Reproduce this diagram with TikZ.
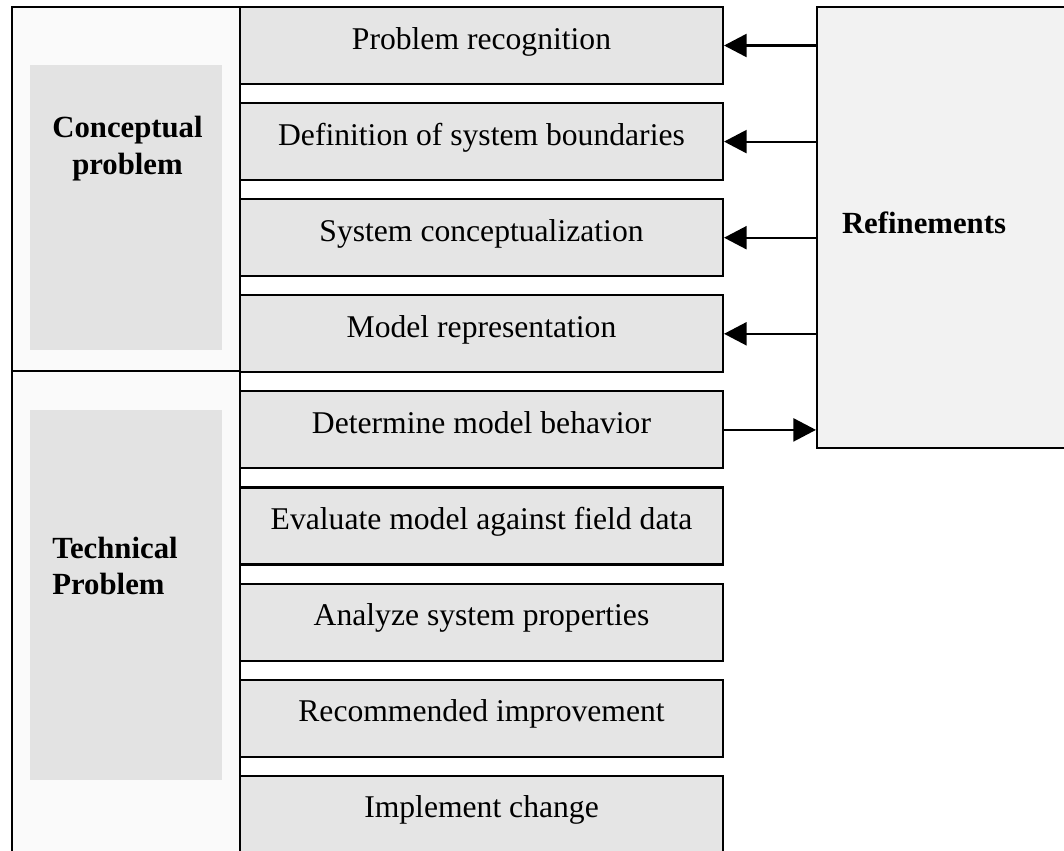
\documentclass[tikz,border=0pt]{standalone}
\usepackage{fontspec}
\setmainfont{Liberation Serif}
\usetikzlibrary{arrows.meta}

\tikzset{
	stagebox/.style={draw, line width=1.2pt, fill=gray!20, rectangle,
		minimum width=9.66cm, minimum height=1.54cm, inner sep=0pt,
		text height=13pt, text depth=9pt,
		font=\fontsize{18}{22}\selectfont},
	sidebox/.style={draw, line width=1.2pt, fill=gray!4, rectangle,
		minimum width=4.56cm, inner sep=0pt},
	shade/.style={fill=gray!22, draw=none},
	headlabel/.style={font=\fontsize{17.5}{21}\selectfont\bfseries},
	feed/.style={line width=1.2pt, -{Triangle[length=0.45cm, width=0.46cm]}}
}

\begin{document}
\begin{tikzpicture}
		\useasboundingbox (0, 0) rectangle (21.28, -17);
		\clip (0, 0) rectangle (21.28, -17);
		% left column
		\node[sidebox, minimum height=7.28cm] (C) at (2.52, -3.78) {};
		\node[sidebox, minimum height=10.78cm] (T) at (2.52, -12.81) {};
		\fill[shade] (0.6, -1.3) rectangle (4.44, -7.0);
		\fill[shade] (0.6, -8.2) rectangle (4.44, -15.6);
		\node[headlabel, align=center] (CC) at (2.55, -2.98) {Conceptual\\problem};
		\node[headlabel, align=left] (TT) at (2.3, -11.32) {Technical\\Problem};
		% stages
		\node[stagebox] (P1) at (9.63, -0.91) {Problem recognition};
		\node[stagebox] (P2) at (9.63, -2.832) {Definition of system boundaries};
		\node[stagebox] (P3) at (9.63, -4.754) {System conceptualization};
		\node[stagebox] (P4) at (9.63, -6.676) {Model representation};
		\node[stagebox] (P5) at (9.63, -8.598) {Determine model behavior};
		\node[stagebox] (P6) at (9.63, -10.52) {Evaluate model against field data};
		\node[stagebox] (P7) at (9.63, -12.442) {Analyze system properties};
		\node[stagebox] (P8) at (9.63, -14.364) {Recommended improvement};
		\node[stagebox] (P9) at (9.63, -16.286) {Implement change};
		% refinements
		\node[draw, line width=1.2pt, fill=gray!10, minimum width=5.66cm,
			minimum height=8.82cm, inner sep=0pt] (R) at (19.17, -4.55) {};
		\node[headlabel] (RR) at (18.48, -4.46) {Refinements};
		\draw[feed] (P1.east -| R.west) -- (P1.east);
		\draw[feed] (P2.east -| R.west) -- (P2.east);
		\draw[feed] (P3.east -| R.west) -- (P3.east);
		\draw[feed] (P4.east -| R.west) -- (P4.east);
		\draw[feed] (P5.east) -- (P5.east -| R.west);
	\end{tikzpicture}
\end{document}
